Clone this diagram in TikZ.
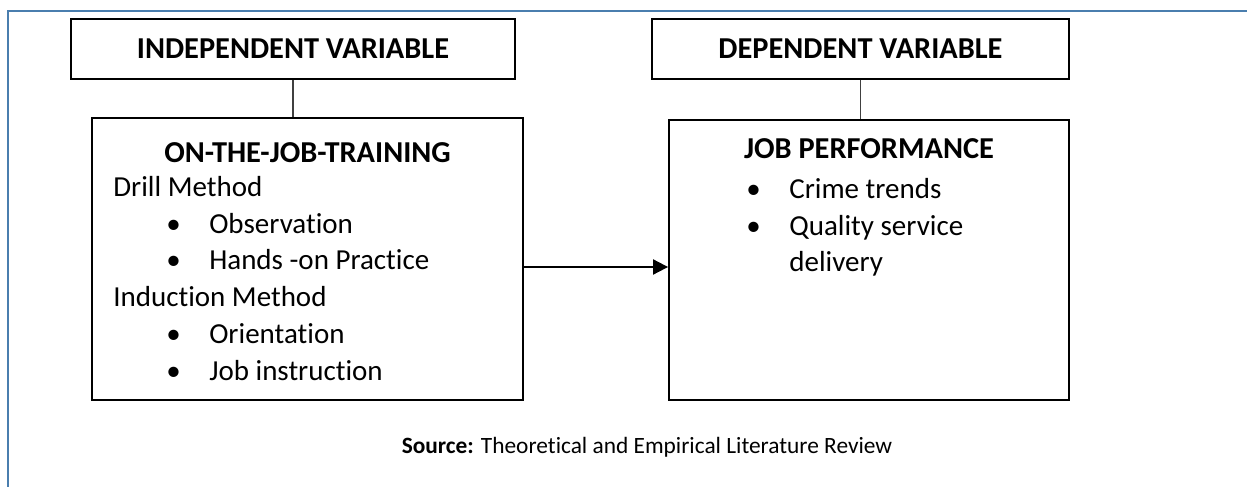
\documentclass[tikz,border=0pt]{standalone}
\usepackage{fontspec}
\setmainfont{Carlito}[Ligatures=CommonOff]
\usepackage{tikz}
\usepackage{xcolor}
\definecolor{frameBlue}{HTML}{4A7EAE}
\definecolor{linkGray}{HTML}{404040}
\usetikzlibrary{arrows.meta}
\newcommand{\bulletmark}{\makebox[0.86cm][l]{\textbullet}}

\begin{document}
\begin{tikzpicture}[x=0.02cm, y=-0.02cm,
  varbox/.style={draw, line width=1.1pt, inner sep=0, minimum height=1.2cm, font=\fontsize{17.3}{20.9}\selectfont\bfseries},
  mainbox/.style={draw, line width=1.1pt, inner sep=0, minimum height=5.6cm},
  titletext/.style={inner sep=0, anchor=base, font=\fontsize{17.3}{20.9}\selectfont\bfseries},
  listtext/.style={inner sep=0, anchor=north west, align=left, font=\fontsize{16.5}{20.9}\selectfont},
  linkline/.style={linkGray, line width=0.6pt},
  flowarrow/.style={line width=1.1pt, -{Triangle[length=0.3cm, width=0.3cm]}}]
  \useasboundingbox (0,0) rectangle (1247,487);
  \draw[frameBlue, line width=1.3pt] (1247,11) -- (8,11) -- (8,487);
  \node[varbox, minimum width=8.88cm] (indep) at (293,49) {INDEPENDENT VARIABLE};
  \node[varbox, minimum width=8.34cm] (dep) at (860.5,49) {DEPENDENT VARIABLE};
  \node[mainbox, minimum width=8.62cm, minimum height=5.64cm] (train) at (307.5,259) {};
  \node[mainbox, minimum width=8.0cm] (perf) at (869,260) {};
  \node[titletext] (trainTitle) at (307.5,162) {ON-THE-JOB-TRAINING};
  \node[listtext] (trainList) at (113,176) {Drill Method\\
    \hspace*{1.06cm}\bulletmark Observation\\
    \hspace*{1.06cm}\bulletmark Hands -on Practice\\
    Induction Method\\
    \hspace*{1.06cm}\bulletmark Orientation\\
    \hspace*{1.06cm}\bulletmark Job instruction};
  \node[titletext] (perfTitle) at (869,158) {JOB PERFORMANCE};
  \node[listtext] (perfList) at (746,178) {\bulletmark Crime trends\\
    \bulletmark Quality service\\
    \hspace*{0.86cm}delivery};
  \node[inner sep=0, anchor=base, font=\fontsize{13.3}{16}\selectfont] (source) at (647,453)
    {\textbf{Source:} Theoretical and Empirical Literature Review};
  \draw[linkline] (indep.south) -- (indep.south |- train.north);
  \draw[linkline] (dep.south) -- (dep.south |- perf.north);
  \draw[flowarrow] ([yshift=-0.16cm]train.east) -- ([yshift=-0.16cm]train.east -| perf.west);
\end{tikzpicture}
\end{document}
